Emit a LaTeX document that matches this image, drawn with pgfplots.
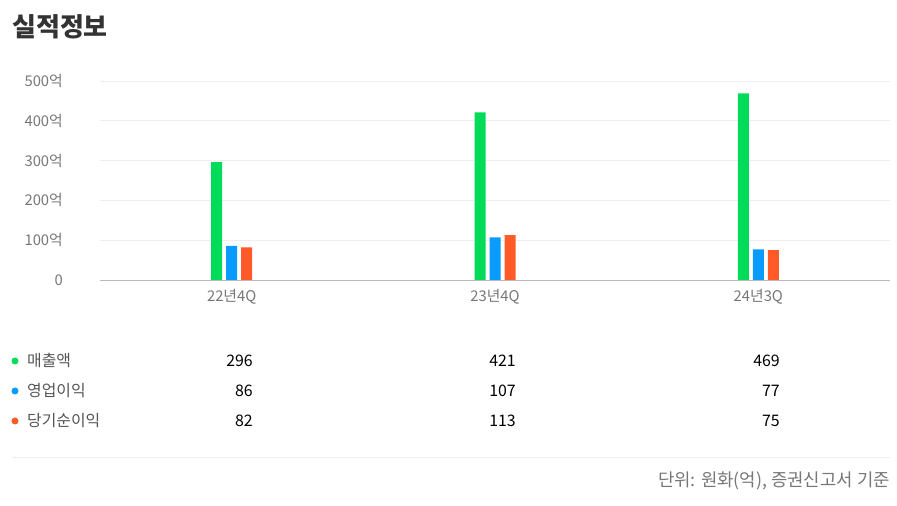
\documentclass[border=0pt]{standalone}
\usepackage{fontspec}
\setmainfont{Noto Sans CJK KR}
\usepackage{pgfplots}
\pgfplotsset{compat=1.18}

\definecolor{cgreen}{HTML}{00DC5A}
\definecolor{cblue}{HTML}{0A9BFF}
\definecolor{corange}{HTML}{FF5A28}
\definecolor{cgrid}{HTML}{EEEEF0}
\definecolor{cbase}{HTML}{BBBBBB}
\definecolor{ctitle}{HTML}{333333}
\definecolor{ctick}{HTML}{777777}
\definecolor{clabel}{HTML}{555555}

\newcommand{\fs}[1]{\fontsize{#1}{#1}\selectfont}

\begin{document}
\begin{tikzpicture}[x=1pt,y=1pt]
\path[use as bounding box] (0,0) rectangle (897,506);

% title
\node[anchor=west, inner sep=0pt, text=ctitle, font=\fs{26}\bfseries] at (12,479) {실적정보};

\begin{axis}[
    at={(100pt,226pt)}, anchor=south west,
    scale only axis, width=790pt, height=199pt,
    xmin=-0.5, xmax=2.5, ymin=0, ymax=500,
    axis x line*=bottom, axis y line*=left,
    x axis line style={draw=cbase, -},
    y axis line style={draw=none},
    major tick length=0pt,
    xtick={0,1,2},
    xticklabels={22년4Q,23년4Q,24년3Q},
    ytick={0,100,200,300,400,500},
    yticklabels={0,100억,200억,300억,400억,500억},
    ymajorgrids, grid style={draw=cgrid, line width=0.8pt},
    yticklabel style={anchor=east, inner sep=0pt, xshift=-37pt, text=ctick, font=\fs{14.8}},
    xticklabel style={anchor=center, inner sep=0pt, yshift=-17pt, text=ctick, font=\fs{14.8}},
    ybar=4pt, bar width=11pt,
]
\addplot[fill=cgreen, draw=none] coordinates {(0,296) (1,421) (2,469)};
\addplot[fill=cblue, draw=none] coordinates {(0,86) (1,107) (2,77)};
\addplot[fill=corange, draw=none] coordinates {(0,82) (1,113) (2,75)};
\end{axis}

% data table
\fill[cgreen] (15,145) circle (3.5);
\fill[cblue] (15,115) circle (3.5);
\fill[corange] (15,85) circle (3.5);
\begin{scope}[every node/.style={inner sep=0pt, font=\fs{15.9}}]
\node[anchor=west, text=clabel] at (27,145) {매출액};
\node[anchor=west, text=clabel] at (27,115) {영업이익};
\node[anchor=west, text=clabel] at (27,85) {당기순이익};
\node[anchor=east] at (253,145) {296};
\node[anchor=east] at (516,145) {421};
\node[anchor=east] at (780,145) {469};
\node[anchor=east] at (253,115) {86};
\node[anchor=east] at (516,115) {107};
\node[anchor=east] at (780,115) {77};
\node[anchor=east] at (253,85) {82};
\node[anchor=east] at (516,85) {113};
\node[anchor=east] at (780,85) {75};
\end{scope}

\draw[cgrid, line width=0.8pt] (12,49) -- (890,49);
\node[anchor=east, inner sep=0pt, text=ctick, font=\fs{17.8}] at (890,25) {단위: 원화(억), 증권신고서 기준};
\end{tikzpicture}
\end{document}
